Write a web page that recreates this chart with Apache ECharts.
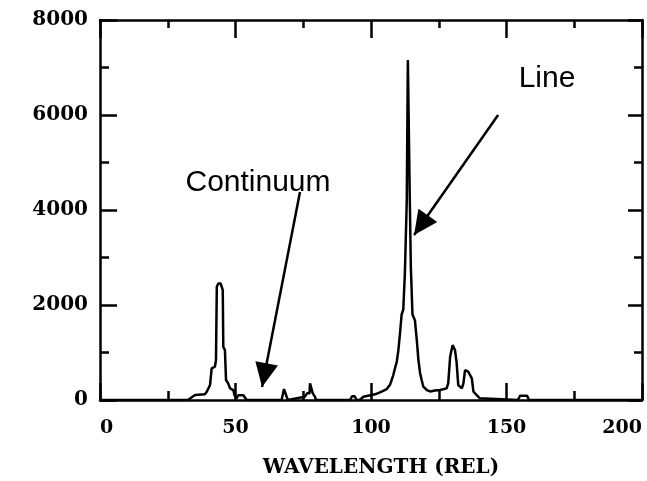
<!DOCTYPE html>
<html>
<head>
    <meta charset="utf-8" />
    <style>
        html, body { margin: 0; padding: 0; background: #fff; }
        #chart { width: 647px; height: 481px; }
    </style>
    <script src="https://cdn.jsdelivr.net/npm/echarts@6/dist/echarts.min.js"></script>
</head>
<body>
    <div id="chart"></div>
    <script type="text/javascript">
        // spectrum outline
        var wavelength = [0, 32.4, 33.2, 35.1, 38.7, 39.4, 40.6, 41.2, 42.4, 42.8, 43.1, 43.7, 44.5, 45.3, 45.5, 46.1, 46.5, 47.3, 48.0, 49.2, 49.6, 50.4, 51.0, 52.9, 54.1,
            67.0, 67.9, 68.6, 69.3, 75.6, 76.4, 77.3, 77.5, 78.0, 78.5, 79.3, 79.7, 92.3, 93.0, 94.0, 94.7,
            95.9, 97.2, 101.5, 103.3, 104.5, 105.8, 107.0, 107.6, 108.2, 108.9, 109.5, 110.1, 110.7, 111.3, 111.9, 112.5, 113.2, 113.6, 114.0,
            114.3, 114.7, 115.3, 116.2, 116.9, 117.5, 118.1, 118.7, 119.3, 120.6, 121.8, 123.6, 125.5, 127.9, 128.5, 129.2, 130.1, 131.0, 131.6,
            132.2, 133.5, 134.1, 134.7, 135.9, 137.2, 137.8, 139.0, 140.2, 140.8, 154.2, 155.0, 157.6, 158.3, 200];
        var intensity = [0, 0, 30, 105, 120, 175, 315, 665, 700, 840, 2385, 2455, 2455, 2315, 1120, 1050, 420, 350, 245, 210, 105, 35, 100, 100, 0,
            0, 230, 230, 0, 70, 140, 140, 350, 350, 140, 70, 0, 0, 80, 80, 0,
            0, 70, 120, 160, 190, 230, 320, 420, 520, 680, 800, 1050, 1400, 1800, 1900, 2660, 4200, 7160, 7160,
            4300, 2800, 1800, 1680, 1260, 840, 570, 420, 280, 210, 180, 200, 210, 245, 350, 910, 1155, 1050, 780,
            315, 245, 350, 630, 595, 455, 175, 105, 35, 0, 0, 90, 90, 0, 0];

        // annotation arrows: [start, tip] in data units
        var continuumArrow = [[73.8, 4379], [59.8, 274]];
        var lineArrow = [[146.9, 6000], [115.9, 3474]];

        var points = [];
        for (var i = 0; i < wavelength.length; i++) {
            points.push([wavelength[i], intensity[i]]);
        }

        var serif = 'DejaVu Serif';
        var axisLineStyle = { color: '#000', width: 2.5 };

        function plain(v) {
            return String(v);
        }

        // head is centred on the end point by default, pull it back so the tip lands there
        function arrowItem(a) {
            return [
                { coord: a[0], symbol: 'none' },
                { coord: a[1], symbol: 'triangle', symbolSize: [23, 24], symbolOffset: [0, 12] }
            ];
        }

        function frameAxis(pos, max, step, major, minor) {
            return {
                type: 'value', min: 0, max: max, interval: step, position: pos,
                axisLine: { onZero: false, lineStyle: axisLineStyle },
                axisTick: { inside: true, length: major, lineStyle: axisLineStyle },
                minorTick: { show: true, splitNumber: 2, length: minor, lineStyle: axisLineStyle },
                axisLabel: { show: false },
                splitLine: { show: false }
            };
        }

        var chart = echarts.init(document.getElementById('chart'));
        chart.setOption({
            animation: false,
            backgroundColor: '#fff',
            grid: { left: 100, right: 5, top: 20, bottom: 81, outerBoundsMode: 'none' },
            xAxis: [
                {
                    type: 'value', min: 0, max: 200, interval: 50, position: 'bottom',
                    name: 'WAVELENGTH (REL)', nameLocation: 'middle', nameGap: 58,
                    nameTextStyle: { fontFamily: serif, fontWeight: 'bold', fontSize: 20, color: '#000', padding: [0, 0, 0, 20] },
                    axisLine: { onZero: false, lineStyle: axisLineStyle },
                    axisTick: { inside: true, length: 17, lineStyle: axisLineStyle },
                    minorTick: { show: true, splitNumber: 2, length: 9, lineStyle: axisLineStyle },
                    axisLabel: { margin: 19, formatter: plain, fontFamily: serif, fontWeight: 'bold', fontSize: 19, color: '#000', alignMinLabel: 'left', alignMaxLabel: 'right' },
                    splitLine: { show: false }
                },
                frameAxis('top', 200, 50, 18, 8)
            ],
            yAxis: [
                {
                    type: 'value', min: 0, max: 8000, interval: 2000, position: 'left',
                    axisLine: { onZero: false, lineStyle: axisLineStyle },
                    axisTick: { inside: true, length: 17, lineStyle: axisLineStyle },
                    minorTick: { show: true, splitNumber: 2, length: 9, lineStyle: axisLineStyle },
                    axisLabel: { margin: 12, formatter: plain, fontFamily: serif, fontWeight: 'bold', fontSize: 20, color: '#000' },
                    splitLine: { show: false }
                },
                frameAxis('right', 8000, 2000, 14, 8)
            ],
            series: [{
                type: 'line',
                data: points,
                showSymbol: false,
                symbol: 'none',
                lineStyle: { color: '#000', width: 2.5 },
                markLine: {
                    silent: true,
                    lineStyle: { color: '#000', width: 2.5, type: 'solid' },
                    itemStyle: { color: '#000' },
                    label: { show: false },
                    data: [arrowItem(continuumArrow), arrowItem(lineArrow)]
                }
            }],
            graphic: [
                {
                    type: 'text', x: 258, y: 183,
                    style: { text: 'Continuum', font: '30px "Liberation Sans", Arial, sans-serif', fill: '#000', textAlign: 'center', textVerticalAlign: 'middle' }
                },
                {
                    type: 'text', x: 547, y: 79,
                    style: { text: 'Line', font: '30px "Liberation Sans", Arial, sans-serif', fill: '#000', textAlign: 'center', textVerticalAlign: 'middle' }
                }
            ]
        });
    </script>
</body>
</html>
